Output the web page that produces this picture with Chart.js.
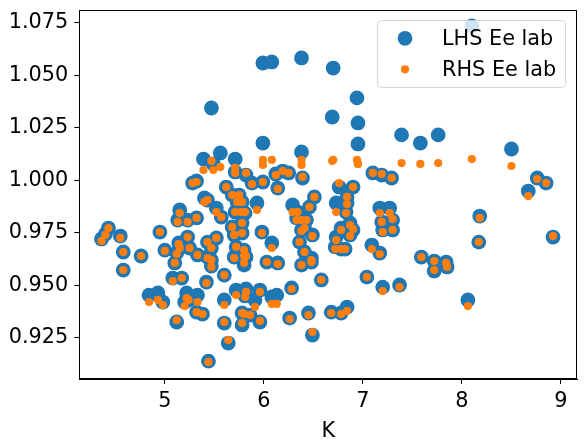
<!DOCTYPE html>
<html>
<head>
<meta charset="utf-8">
<script src="https://cdn.jsdelivr.net/npm/chart.js@4"></script>
<style>
html,body{margin:0;padding:0;background:#fff;}
#c{display:block;}
</style>
</head>
<body>
<canvas id="c" width="585" height="444"></canvas>
<script>
// ---- data ----
const K = [4.36,4.40,4.43,4.55,4.58,4.76,4.58,4.95,5.00,5.15,5.13,5.23,5.32,5.14,5.23,5.15,5.12,5.25,5.43,5.52,
5.47,5.33,5.43,5.47,5.70,5.78,5.72,5.80,5.70,5.80,5.10,5.47,5.39,5.56,5.71,5.71,5.49,5.82,5.28,5.32,
5.62,5.40,5.43,5.68,5.75,5.73,5.78,5.52,5.57,5.71,5.77,5.81,5.68,5.78,5.08,5.17,5.42,5.47,5.60,4.84,
4.93,4.98,5.22,5.33,5.20,5.24,5.32,5.38,5.12,5.60,5.72,5.78,5.60,5.78,5.64,5.44,5.88,5.99,6.14,6.12,
6.19,6.25,6.39,5.93,6.29,6.34,6.46,6.51,6.33,6.38,6.43,6.38,6.41,6.36,6.49,6.41,6.48,6.38,6.03,6.14,
5.98,6.08,5.82,6.76,6.90,6.84,6.84,6.73,6.83,6.87,6.78,6.90,6.73,6.87,6.72,6.78,6.82,7.10,7.19,7.29,
7.17,7.27,7.19,7.30,7.20,7.30,7.09,7.17,5.80,6.48,6.58,5.82,5.81,5.96,5.91,6.13,6.08,6.28,5.80,5.86,
5.96,6.26,6.45,6.49,6.68,6.78,6.84,7.04,7.20,7.37,5.99,6.08,6.38,6.70,6.94,6.69,6.95,5.99,6.38,6.95,
7.39,7.58,7.76,8.50,8.10,8.76,8.85,8.67,8.18,8.17,8.92,7.59,7.72,7.72,7.84,7.85,8.06];
const lhsEe = [0.9721,0.9745,0.9773,0.9735,0.9659,0.9640,0.9573,0.9754,0.9668,0.9859,0.9811,0.9811,0.9821,0.9702,0.9730,0.9678,0.9654,0.9678,0.9706,0.9726,
0.9678,0.9645,0.9635,0.9621,0.9740,0.9749,0.9683,0.9668,0.9635,0.9645,0.9607,1.0344,1.0101,1.0130,1.0101,1.0040,1.0078,1.0025,0.9987,0.9997,
0.9968,0.9916,0.9906,0.9930,0.9930,0.9897,0.9897,0.9868,0.9825,0.9849,0.9849,0.9844,0.9778,0.9797,0.9535,0.9535,0.9516,0.9592,0.9549,0.9454,
0.9464,0.9421,0.9464,0.9454,0.9421,0.9431,0.9373,0.9364,0.9326,0.9431,0.9478,0.9369,0.9321,0.9312,0.9226,0.9140,0.9987,0.9992,0.9963,1.0030,
1.0044,1.0035,1.0011,0.9892,0.9883,0.9849,0.9873,0.9921,0.9821,0.9811,0.9811,0.9764,0.9773,0.9706,0.9740,0.9659,0.9630,0.9597,0.9611,0.9607,
0.9754,0.9702,0.9635,0.9968,0.9968,0.9921,0.9892,0.9892,0.9849,0.9797,0.9773,0.9764,0.9730,0.9740,0.9683,0.9673,0.9673,1.0035,1.0025,1.0011,
0.9868,0.9868,0.9802,0.9811,0.9764,0.9764,0.9692,0.9654,0.9597,0.9611,0.9526,0.9483,0.9450,0.9478,0.9431,0.9454,0.9445,0.9488,0.9359,0.9359,
0.9326,0.9345,0.9369,0.9264,0.9373,0.9369,0.9397,0.9540,0.9492,0.9502,1.0558,1.0563,1.0582,1.0534,1.0392,1.0301,1.0273,1.0177,1.0135,1.0173,
1.0216,1.0177,1.0216,1.0149,1.0734,1.0011,0.9987,0.9949,0.9830,0.9706,0.9730,0.9635,0.9616,0.9569,0.9611,0.9588,0.9431];
const rhsEe = [0.9711,0.9740,0.9773,0.9726,0.9659,0.9640,0.9573,0.9754,0.9664,0.9844,0.9802,0.9802,0.9821,0.9697,0.9730,0.9678,0.9649,0.9678,0.9706,0.9726,
0.9678,0.9645,0.9630,0.9621,0.9740,0.9749,0.9683,0.9668,0.9630,0.9640,0.9607,1.0092,1.0049,1.0063,1.0059,1.0035,1.0049,1.0035,0.9987,0.9992,
0.9968,0.9897,0.9906,0.9930,0.9930,0.9897,0.9897,0.9849,0.9825,0.9849,0.9849,0.9849,0.9778,0.9797,0.9521,0.9535,0.9511,0.9588,0.9549,0.9421,
0.9431,0.9407,0.9440,0.9421,0.9402,0.9431,0.9373,0.9364,0.9335,0.9407,0.9454,0.9369,0.9326,0.9321,0.9240,0.9136,0.9982,0.9992,0.9959,1.0025,
1.0044,1.0035,1.0016,0.9859,0.9849,0.9849,0.9873,0.9921,0.9811,0.9811,0.9811,0.9759,0.9773,0.9706,0.9735,0.9659,0.9621,0.9597,0.9611,0.9602,
0.9749,0.9678,0.9640,0.9987,0.9968,0.9921,0.9887,0.9849,0.9844,0.9787,0.9764,0.9768,0.9716,0.9735,0.9673,0.9673,0.9673,1.0035,1.0030,1.0011,
0.9844,0.9844,0.9802,0.9816,0.9754,0.9764,0.9673,0.9649,0.9607,0.9611,0.9526,0.9469,0.9445,0.9469,0.9397,0.9412,0.9412,0.9483,0.9364,0.9359,
0.9331,0.9340,0.9359,0.9278,0.9369,0.9364,0.9378,0.9540,0.9473,0.9492,1.0097,1.0097,1.0097,1.0097,1.0097,1.0092,1.0078,1.0073,1.0073,1.0078,
1.0082,1.0078,1.0082,1.0068,1.0101,1.0006,0.9987,0.9925,0.9821,0.9706,0.9735,0.9635,0.9616,0.9573,0.9607,0.9588,0.9402];
const xTicks = [5, 6, 7, 8, 9];
const yTicks = [0.925, 0.950, 0.975, 1.000, 1.025, 1.050, 1.075];
const seriesNames = ['LHS Ee lab', 'RHS Ee lab'];

const BLUE = '#1f77b4', ORANGE = '#ff7f0e';
const FONT = {family: "'DejaVu Sans', sans-serif", size: 20.8};

const lhsPts = K.map((k, i) => ({x: k, y: lhsEe[i]}));
const rhsPts = K.map((k, i) => ({x: k, y: rhsEe[i]}));

const frameAndLegend = {
  id: 'frameAndLegend',
  afterDatasetsDraw(chart) {
    const {ctx, chartArea: a} = chart;
    ctx.save();
    ctx.strokeStyle = '#000';
    ctx.lineWidth = 1;
    ctx.strokeRect(Math.round(a.left) + 0.5, Math.round(a.top) + 0.5,
                   Math.round(a.right - a.left) - 1, Math.round(a.bottom - a.top) - 1);
    // legend box
    const lx = 377.5, ly = 20.5, lw = 188, lh = 67, r = 4;
    ctx.beginPath();
    ctx.moveTo(lx + r, ly);
    ctx.lineTo(lx + lw - r, ly); ctx.quadraticCurveTo(lx + lw, ly, lx + lw, ly + r);
    ctx.lineTo(lx + lw, ly + lh - r); ctx.quadraticCurveTo(lx + lw, ly + lh, lx + lw - r, ly + lh);
    ctx.lineTo(lx + r, ly + lh); ctx.quadraticCurveTo(lx, ly + lh, lx, ly + lh - r);
    ctx.lineTo(lx, ly + r); ctx.quadraticCurveTo(lx, ly, lx + r, ly);
    ctx.closePath();
    ctx.fillStyle = 'rgba(255,255,255,0.8)';
    ctx.fill();
    ctx.strokeStyle = 'rgba(204,204,204,0.8)';
    ctx.stroke();
    ctx.fillStyle = BLUE;
    ctx.beginPath(); ctx.arc(405, 38.3, 7.4, 0, Math.PI * 2); ctx.fill();
    ctx.fillStyle = ORANGE;
    ctx.beginPath(); ctx.arc(405, 69.3, 4.1, 0, Math.PI * 2); ctx.fill();
    ctx.fillStyle = '#000';
    ctx.font = FONT.size + 'px ' + FONT.family;
    ctx.textBaseline = 'alphabetic';
    ctx.textAlign = 'left';
    ctx.fillText(seriesNames[0], 442, 45);
    ctx.fillText(seriesNames[1], 442, 75.7);
    ctx.restore();
  }
};

new Chart(document.getElementById('c'), {
  type: 'scatter',
  data: {
    datasets: [
      {label: seriesNames[1], data: rhsPts, backgroundColor: ORANGE, pointRadius: 4.1,
       pointHoverRadius: 4.1, borderWidth: 0, order: 0},
      {label: seriesNames[0], data: lhsPts, backgroundColor: BLUE, pointRadius: 7.4,
       pointHoverRadius: 7.4, borderWidth: 0, order: 1}
    ]
  },
  options: {
    responsive: false,
    animation: false,
    devicePixelRatio: 1,
    layout: {padding: {left: 0, right: 7.5, top: 10, bottom: 0}},
    plugins: {legend: {display: false}, tooltip: {enabled: false}},
    scales: {
      x: {
        type: 'linear',
        min: 4.136, max: 9.167,
        afterBuildTicks: s => { s.ticks = xTicks.map(v => ({value: v})); },
        afterFit: s => { s.height = 65; s.paddingLeft = 0; s.paddingRight = 0; s.paddingTop = 0; s.paddingBottom = 0; },
        grid: {display: true, drawOnChartArea: false, drawTicks: true, tickLength: 5, color: '#000', lineWidth: 1},
        border: {display: true, color: '#000', width: 1},
        ticks: {color: '#000', font: FONT, padding: 5, maxRotation: 0, callback: v => String(v)},
        title: {display: true, text: 'K', color: '#000', font: FONT, padding: {top: 0, bottom: 0}}
      },
      y: {
        type: 'linear',
        min: 0.9055, max: 1.081,
        afterBuildTicks: s => { s.ticks = yTicks.map(v => ({value: v})); },
        afterFit: s => { s.width = 79.3; s.paddingLeft = 0; s.paddingRight = 0; s.paddingTop = 0; s.paddingBottom = 0; },
        grid: {display: true, drawOnChartArea: false, drawTicks: true, tickLength: 5, color: '#000', lineWidth: 1},
        border: {display: true, color: '#000', width: 1},
        ticks: {color: '#000', font: FONT, padding: 6, callback: v => Number(v).toFixed(3)}
      }
    }
  },
  plugins: [frameAndLegend]
});
</script>
</body>
</html>
